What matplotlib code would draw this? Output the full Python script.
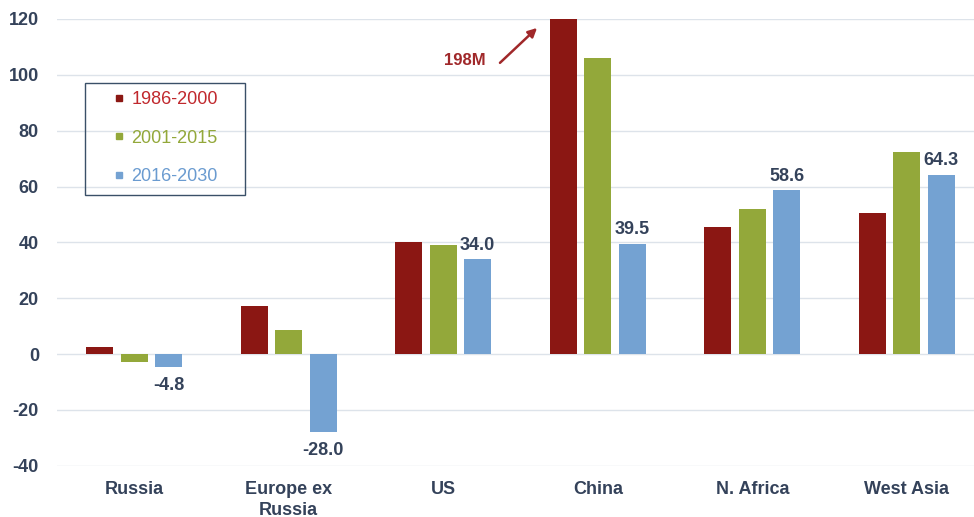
import matplotlib
matplotlib.use("Agg")
import matplotlib.pyplot as plt
from matplotlib.lines import Line2D
from matplotlib.patches import Rectangle
import numpy as np

plt.rcParams['font.family'] = ['Liberation Sans', 'DejaVu Sans']

categories = ["Russia", "Europe ex\nRussia", "US", "China", "N. Africa", "West Asia"]
series_names = ["1986-2000", "2001-2015", "2016-2030"]
s1986 = [2.6, 17.2, 40.0, 198.0, 45.5, 50.5]
s2001 = [-2.7, 8.7, 39.0, 106.0, 52.0, 72.3]
s2016 = [-4.8, -28.0, 34.0, 39.5, 58.6, 64.3]
label_2016 = ["-4.8", "-28.0", "34.0", "39.5", "58.6", "64.3"]
yticks = [-40, -20, 0, 20, 40, 60, 80, 100, 120]

colors = ["#8B1713", "#93A83A", "#74A2D2"]
legend_text_colors = ["#C0282D", "#93A83A", "#6A9BD0"]
txt_color = "#34425A"

W, H = 974, 517
fig = plt.figure(figsize=(W / 100, H / 100), dpi=100)
left = 57 / W
right = 974 / W
bottom = (H - 465.7) / H
top = (H - 19) / H
ax = fig.add_axes([left, bottom, right - left, top - bottom])

x = np.arange(len(categories))
off = 0.223
bw = 0.175
for i, (vals, c) in enumerate(zip([s1986, s2001, s2016], colors)):
    ax.bar(x + (i - 1) * off, vals, width=bw, color=c, zorder=3)

for xi, v, lab in zip(x, s2016, label_2016):
    if v >= 0:
        ax.annotate(lab, (xi + off, v), xytext=(0, 4), textcoords="offset points",
                    ha="center", va="bottom", fontsize=13, fontweight="bold", color=txt_color)
    else:
        ax.annotate(lab, (xi + off, v), xytext=(0, -7), textcoords="offset points",
                    ha="center", va="top", fontsize=13, fontweight="bold", color=txt_color)

ax.set_ylim(-40, 120)
ax.set_xlim(-0.5, 5.435)
ax.set_yticks(yticks)
ax.set_yticklabels([str(t) for t in yticks])
ax.set_xticks(x)
ax.set_xticklabels(categories, linespacing=1.3)
for lab in ax.get_xticklabels() + ax.get_yticklabels():
    lab.set_fontweight("bold")
    lab.set_fontsize(13)
    lab.set_color(txt_color)
ax.tick_params(axis="both", length=0)
ax.tick_params(axis="y", pad=13)
ax.tick_params(axis="x", pad=11)
ax.grid(axis="y", color="#DDE3EA", linewidth=1, zorder=0)
for sp in ax.spines.values():
    sp.set_visible(False)

# annotation for clipped China bar
ax.annotate("", xy=(2.607, 116.8), xytext=(2.367, 104.3),
            arrowprops=dict(arrowstyle="-|>", color="#A0282A", lw=1.8, mutation_scale=13,
                            shrinkA=0, shrinkB=0))
ax.text(2.14, 105.0, "198M", ha="center", va="center", fontsize=12,
        fontweight="bold", color="#A0282A")

# legend
handles = [Line2D([], [], marker="s", linestyle="none", markersize=4.6,
                  markerfacecolor=c, markeredgecolor=c) for c in colors]
fx = lambda px: px / W
fy = lambda py: 1 - py / H
leg = fig.legend(handles, series_names, loc="upper left",
                 bbox_to_anchor=(fx(115), fy(91)), frameon=False, fontsize=13,
                 handlelength=0.45, handletextpad=0.45, labelspacing=1.2,
                 borderpad=0, borderaxespad=0)
for t, c in zip(leg.get_texts(), legend_text_colors):
    t.set_color(c)
fig.patches.append(Rectangle((fx(85), fy(195)), fx(245) - fx(85), fy(83) - fy(195),
                             transform=fig.transFigure, fill=False,
                             edgecolor="#3A5068", linewidth=1.0, zorder=5))

fig.savefig("out.png", dpi=100)
